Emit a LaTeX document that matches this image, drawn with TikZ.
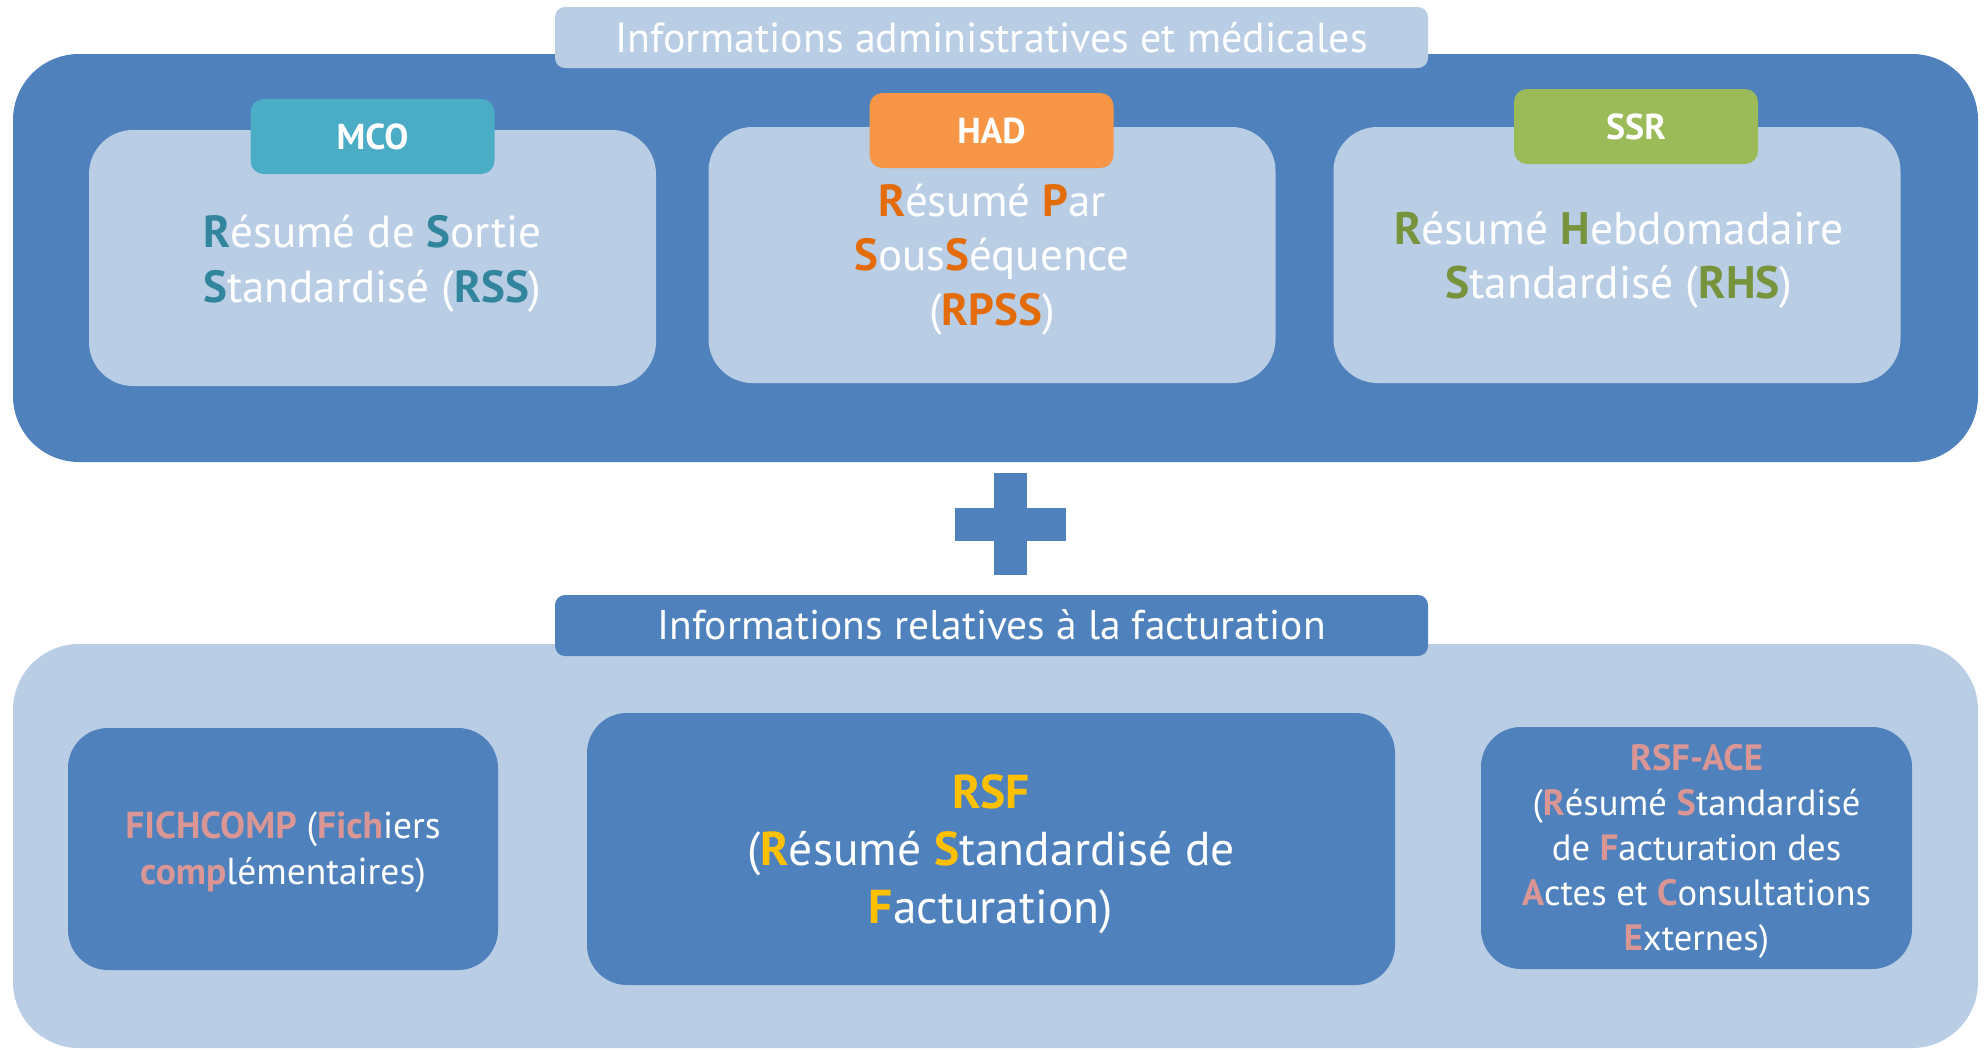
\documentclass[tikz,border=0pt]{standalone}
\usepackage{fontspec}
\setmainfont{PT Sans}
\definecolor{dblue}{HTML}{4F81BD}
\definecolor{lblue}{HTML}{B9CDE5}
\definecolor{tealtab}{HTML}{4BACC6}
\definecolor{orangetab}{HTML}{F79646}
\definecolor{greentab}{HTML}{9BBB59}
\definecolor{tealtxt}{HTML}{31859C}
\definecolor{orangetxt}{HTML}{E36C09}
\definecolor{greentxt}{HTML}{77933C}
\definecolor{yellowtxt}{HTML}{FFC000}
\definecolor{pinktxt}{HTML}{D99694}
\newcommand\kc[2]{\textcolor{#1}{\bfseries #2}}
\begin{document}
\begin{tikzpicture}[x=1pt,y=-1pt,
  shapebox/.style={inner sep=0pt, outer sep=0pt, draw=none},
  bigbox/.style={shapebox, rounded corners=66pt, minimum width=1965pt},
  header/.style={shapebox, rounded corners=10pt, minimum width=873pt, minimum height=61pt},
  innerbox/.style={shapebox, fill=lblue, rounded corners=44pt, minimum width=567pt, minimum height=256pt},
  tab/.style={shapebox, rounded corners=13pt, minimum width=244pt, minimum height=75pt,
     text=white, font=\fontsize{36}{40}\selectfont\bfseries},
  lowbox/.style={shapebox, fill=dblue, rounded corners=40pt},
  txt/.style={align=center, anchor=base, text=white, inner sep=0pt},
]
\useasboundingbox (0,0) rectangle (1987,1050);
\fill[white] (0,0) rectangle (1987,1050);

% top section
\node[bigbox, fill=dblue, minimum height=408pt] (topbox) at (995.5,258) {};
\node[header, fill=lblue] (tophead) at (991.5,37.5) {};
\node[txt, font=\fontsize{42}{50}\selectfont] (topheadtxt) at (991.5,52) {Informations administratives et médicales};

\node[innerbox] (mco) at (372.5,258) {};
\node[innerbox] (had) at (992,255) {};
\node[innerbox] (ssr) at (1617,255) {};

\node[tab, fill=tealtab] (mcotab) at (372.5,136.5) {MCO};
\node[tab, fill=orangetab] (hadtab) at (991.5,130.5) {HAD};
\node[tab, fill=greentab] (ssrtab) at (1636,126.5) {SSR};

\node[txt, font=\fontsize{45}{55}\selectfont] (mcotxt) at (372.5,302)
  {\kc{tealtxt}{R}ésumé de \kc{tealtxt}{S}ortie\\\kc{tealtxt}{S}tandardisé (\kc{tealtxt}{RSS})};
\node[txt, font=\fontsize{45}{54.5}\selectfont] (hadtxt) at (992,325)
  {\kc{orangetxt}{R}ésumé \kc{orangetxt}{P}ar\\\kc{orangetxt}{S}ous\kc{orangetxt}{S}équence\\(\kc{orangetxt}{RPSS})};
\node[txt, font=\fontsize{45.5}{54}\selectfont] (ssrtxt) at (1619,298)
  {\kc{greentxt}{R}ésumé \kc{greentxt}{H}ebdomadaire\\\kc{greentxt}{S}tandardisé (\kc{greentxt}{RHS})};

% plus sign
\fill[dblue] (994,473) rectangle (1027,575);
\fill[dblue] (955,508) rectangle (1066,541);

% bottom section
\node[bigbox, fill=lblue, minimum height=404pt] (botbox) at (995.5,846) {};
\node[header, fill=dblue] (bothead) at (991.5,625.5) {};
\node[txt, font=\fontsize{41.5}{50}\selectfont] (botheadtxt) at (991.5,639) {Informations relatives à la facturation};

\node[lowbox, minimum width=430pt, minimum height=242pt] (fich) at (283,849) {};
\node[lowbox, minimum width=808pt, minimum height=272pt] (rsf) at (991,849) {};
\node[lowbox, minimum width=431pt, minimum height=242pt] (ace) at (1696.5,848) {};

\node[txt, font=\fontsize{37.5}{46}\selectfont] (fichtxt) at (283,884)
  {\kc{pinktxt}{FICHCOMP} (\kc{pinktxt}{Fich}iers\\\kc{pinktxt}{comp}lémentaires)};
\node[txt, font=\fontsize{47.5}{57.5}\selectfont] (rsftxt) at (991,923)
  {\kc{yellowtxt}{RSF}\\(\kc{yellowtxt}{R}ésumé \kc{yellowtxt}{S}tandardisé de\\\kc{yellowtxt}{F}acturation)};
\node[txt, font=\fontsize{36.6}{44.8}\selectfont] (acetxt) at (1696.5,950)
  {\kc{pinktxt}{RSF-ACE}\\(\kc{pinktxt}{R}ésumé \kc{pinktxt}{S}tandardisé\\de \kc{pinktxt}{F}acturation des\\\kc{pinktxt}{A}ctes et \kc{pinktxt}{C}onsultations\\\kc{pinktxt}{E}xternes)};
\end{tikzpicture}
\end{document}
